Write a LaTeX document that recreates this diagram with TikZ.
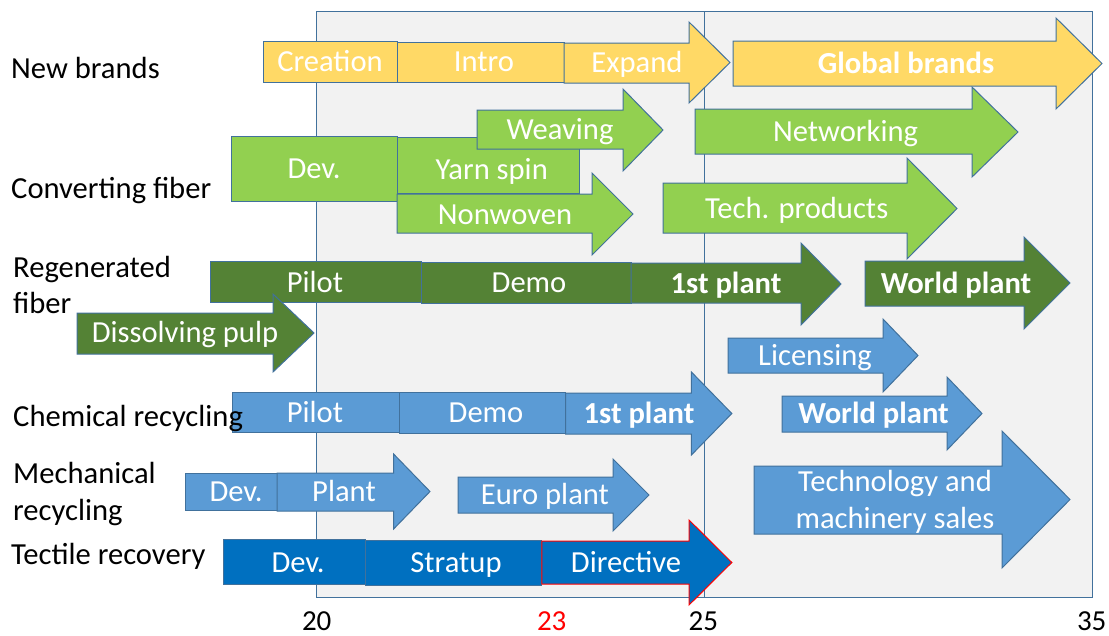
\documentclass[tikz,border=0pt]{standalone}
\usepackage{fontspec}
\setmainfont{Carlito}
\definecolor{bord}{HTML}{41719C}
\definecolor{cyel}{HTML}{FFD966}
\definecolor{clgr}{HTML}{92D050}
\definecolor{cdgr}{HTML}{548235}
\definecolor{cblu}{HTML}{5B9BD5}
\definecolor{cdbl}{HTML}{0070C0}
\definecolor{bggray}{HTML}{F2F2F2}
% #1 style, #2 left x, #3 head base x, #4 tip x, #5 body top, #6 body bottom, #7 head top, #8 head bottom
\newcommand{\barr}[8]{\draw[#1] (#2,#5) -- (#3,#5) -- (#3,#7) -- (#4,{(#7+#8)/2}) -- (#3,#8) -- (#3,#6) -- (#2,#6) -- cycle;}
% #1 style, #2 left x, #3 right x, #4 top, #5 bottom
\newcommand{\brect}[5]{\draw[#1] (#2,#4) rectangle (#3,#5);}
\begin{document}
\begin{tikzpicture}[x=1pt,y=-1pt,
  shp/.style={draw=bord, line width=1pt, line join=miter},
  Y/.style={shp, fill=cyel},
  LG/.style={shp, fill=clgr},
  DG/.style={shp, fill=cdgr},
  BL/.style={shp, fill=cblu},
  DB/.style={shp, fill=cdbl},
  txt/.style={text=white, inner sep=0pt, text height=19.6pt, text depth=0pt, font=\fontsize{30.6}{36}\selectfont},
  btxt/.style={txt, font=\fontsize{30.6}{36}\selectfont\bfseries},
  side/.style={text=black, inner sep=0pt, anchor=base west, font=\fontsize{30.6}{36}\selectfont},
  axis/.style={text=black, inner sep=0pt, anchor=base, font=\fontsize{29}{34}\selectfont}
]
\useasboundingbox (0,0) rectangle (1109,635);
% background panel
\draw[draw=bord, fill=bggray, line width=1pt] (316.7,11.7) rectangle (1092,597);
\draw[draw=bord, line width=1pt] (704,11.7) -- (704,597);

% New brands
\brect{Y}{263}{397}{41}{82}
\brect{Y}{397}{564}{42}{82}
\barr{Y}{564}{689}{730}{43}{83}{22}{103}
\barr{Y}{733}{1056}{1102}{41}{86}{18}{109}

% Converting fiber
\brect{LG}{231}{397}{136}{201}
\brect{LG}{397}{579}{137}{193}
\barr{LG}{477}{623}{663}{110}{149}{89}{171}
\barr{LG}{397}{592}{633}{194}{233}{173}{255}
\barr{LG}{695}{972}{1018}{109}{154}{87}{177}
\barr{LG}{663}{907}{957}{183}{233}{158}{259}

% Regenerated fiber
\brect{DG}{210}{421}{261}{302}
\brect{DG}{421}{631}{262}{303}
\barr{DG}{631}{801}{841}{263}{303}{243}{325}
\barr{DG}{865}{1024}{1070}{261}{306}{237}{329}
\barr{DG}{77}{273}{314}{313}{354}{294}{372}

% Licensing
\barr{BL}{728}{883}{918}{338}{373}{319}{392}

% Chemical recycling
\brect{BL}{232.5}{399.6}{392}{432}
\brect{BL}{399.6}{565.7}{392}{433}
\barr{BL}{565.7}{691.4}{731.8}{393}{434}{372}{455}
\barr{BL}{782}{947}{982}{396}{432}{377}{450}
\barr{BL}{754}{1002}{1070}{466}{534}{431}{568}

% Mechanical recycling
\brect{BL}{185.4}{277}{473}{510}
\barr{BL}{277}{393.6}{430}{473}{511}{454}{529}
\barr{BL}{458}{613}{649}{477}{513}{459}{531}

% Tectile recovery
\brect{DB}{223.6}{365}{539}{584}
\brect{DB}{365}{541.8}{540}{585}
\barr{DB, draw=red}{541.8}{689}{731.8}{541}{584}{520}{605}

% labels in shapes
\node[txt] (creation) at (330,62) {Creation};
\node[txt] (intro) at (484,62) {Intro};
\node[txt] (expand) at (637,63) {Expand};
\node[btxt] (global) at (906,63.5) {Global brands};
\node[txt] (weaving) at (560,130) {Weaving};
\node[txt] (network) at (845.5,131.7) {Networking};
\node[txt] (cdev) at (314,169) {Dev.};
\node[txt] (yarn) at (491.7,170) {Yarn spin};
\node[txt] (nonwoven) at (505,214.5) {Nonwoven};
\node[txt] (tech) at (796.7,208.3) {Tech. products};
\node[txt] (rpilot) at (315,283) {Pilot};
\node[txt] (rdemo) at (529,283) {Demo};
\node[btxt] (rfirst) at (726,283.5) {1st plant};
\node[btxt] (rworld) at (956,283.5) {World plant};
\node[txt] (pulp) at (185,333) {Dissolving pulp};
\node[txt] (licens) at (815,355.5) {Licensing};
\node[txt] (cpilot) at (315,413) {Pilot};
\node[txt] (cdemo) at (486,413) {Demo};
\node[btxt] (cfirst) at (639,413.5) {1st plant};
\node[btxt] (cworld) at (873.5,414) {World plant};
\node[txt] (techA) at (895,482) {Technology and};
\node[txt] (techB) at (895,518.5) {machinery sales};
\node[txt] (mdev) at (236,491.7) {Dev.};
\node[txt] (mplant) at (344,491.7) {Plant};
\node[txt] (euro) at (545,495) {Euro plant};
\node[txt] (tdev) at (298,563) {Dev.};
\node[txt] (strat) at (456,563) {Stratup};
\node[txt] (direct) at (626,563) {Directive};

% row labels
\node[side] (lnew) at (11,78.3) {New brands};
\node[side] (lconv) at (11,198.3) {Converting fiber};
\node[side] (lregA) at (13,277) {Regenerated};
\node[side] (lregB) at (13,313.5) {fiber};
\node[side] (lchem) at (13,426.7) {Chemical recycling};
\node[side] (lmechA) at (13,483.3) {Mechanical};
\node[side] (lmechB) at (13,520) {recycling};
\node[side] (ltect) at (11,564.3) {Tectile recovery};

% axis
\node[axis] (a20) at (316.7,630.5) {20};
\node[axis, text=red] (a23) at (551.7,630.5) {23};
\node[axis] (a25) at (703.3,630.5) {25};
\node[axis] (a35) at (1091.7,630.5) {35};
\end{tikzpicture}
\end{document}
